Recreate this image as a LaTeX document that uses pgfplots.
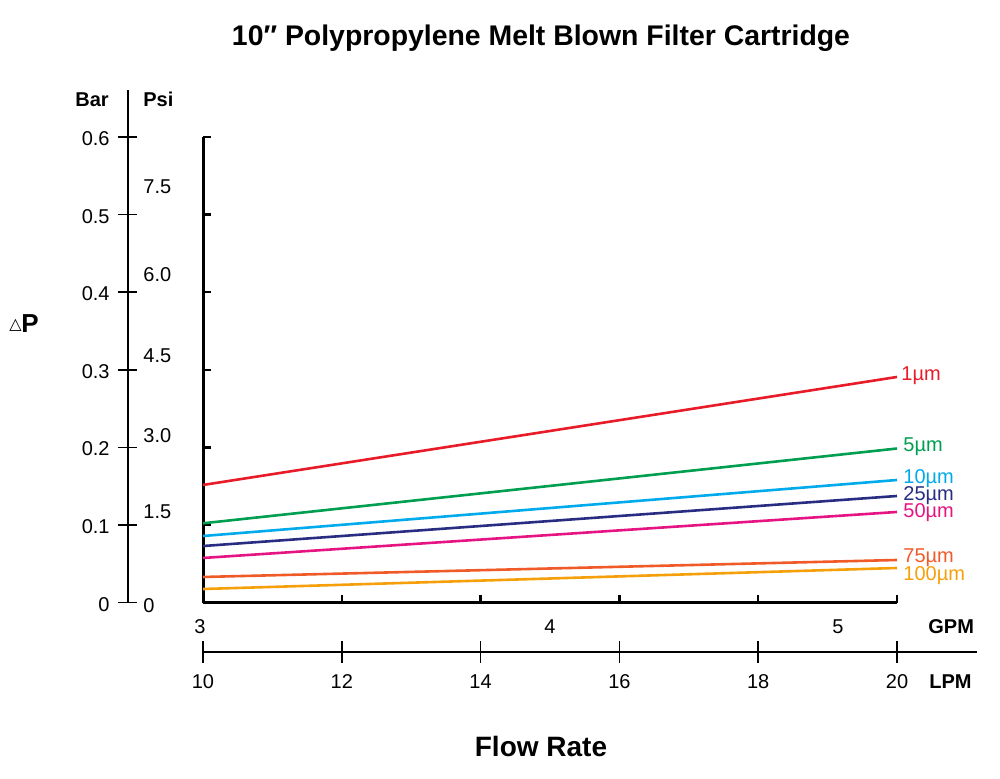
\documentclass[border=0pt]{standalone}
\usepackage{fontspec}
\setmainfont{Liberation Sans}
\newfontfamily\dejavu{DejaVu Sans}
\usepackage{pgfplots}
\pgfplotsset{compat=1.18}
\definecolor{cA}{RGB}{232,28,40}
\definecolor{cB}{RGB}{0,158,80}
\definecolor{cC}{RGB}{0,170,235}
\definecolor{cD}{RGB}{40,45,130}
\definecolor{cE}{RGB}{230,20,130}
\definecolor{cF}{RGB}{240,90,40}
\definecolor{cG}{RGB}{245,160,10}
\begin{document}
\begin{tikzpicture}
\useasboundingbox (-101.5pt,-87.75pt) rectangle (398.5pt,301.25pt);
\begin{axis}[
  at={(0,0)}, anchor=south west,
  scale only axis, width=347pt, height=232.75pt,
  xmin=10, xmax=20, ymin=0, ymax=0.6,
  axis x line=bottom, axis y line=left,
  axis line style={-, line width=1.5pt, black},
  xtick={12,14,16,18,20}, ytick={0.1,0.2,0.3,0.4,0.5,0.6},
  xticklabels={}, yticklabels={},
  tick align=inside, major tick length=4pt,
  tick style={line width=1.2pt, black},
  clip=false,
]
\addplot[cA, line width=1.3pt] coordinates {(10,0.1515) (20,0.2907)};
\addplot[cB, line width=1.3pt] coordinates {(10,0.1021) (20,0.1985)};
\addplot[cC, line width=1.3pt] coordinates {(10,0.0857) (20,0.1579)};
\addplot[cD, line width=1.3pt] coordinates {(10,0.0728) (20,0.1373)};
\addplot[cE, line width=1.3pt] coordinates {(10,0.0574) (20,0.1167)};
\addplot[cF, line width=1.3pt] coordinates {(10,0.0329) (20,0.0548)};
\addplot[cG, line width=1.3pt] coordinates {(10,0.0174) (20,0.0445)};
\end{axis}
\begin{scope}[x=0.5pt, y=-0.5pt, shift={(-101.5pt,301.25pt)}, font=\fontsize{10}{12}\selectfont]
% title
\node[anchor=base, font=\fontsize{14.2}{16}\selectfont\bfseries] at (541,45) {10″ Polypropylene Melt Blown Filter Cartridge};
% bar axis
\draw[line width=0.75pt] (128,90) -- (128,603);
\foreach \v/\lab in {0/0,1/0.1,2/0.2,3/0.3,4/0.4,5/0.5,6/0.6} {
  \pgfmathsetmacro{\yy}{602.5-77.58*\v}
  \draw[line width=0.75pt] (118,\yy) -- (137,\yy);
  \node[anchor=base east, inner sep=0pt] at (110,\yy+8.5) {\lab};
}
\node[anchor=base, font=\fontsize{10}{12}\selectfont\bfseries] at (92,106) {Bar};
\node[anchor=base west, inner sep=0pt, font=\fontsize{10}{12}\selectfont\bfseries] at (143,106) {Psi};
\foreach \yy/\lab in {612/0,518/1.5,442/3.0,362/4.5,281/6.0,193/7.5} {
  \node[anchor=base west, inner sep=0pt] at (143,\yy) {\lab};
}
% delta P
\node[anchor=base west, inner sep=0pt] at (9,329) {\dejavu\fontsize{8}{9}\selectfont △};
\node[anchor=base west, inner sep=0pt, font=\fontsize{13}{14}\selectfont\bfseries] at (21,332) {P};
% series labels
\node[anchor=base west, inner sep=0pt, text=cA] at (901,380) {1µm};
\node[anchor=base west, inner sep=0pt, text=cB] at (903,451) {5µm};
\node[anchor=base west, inner sep=0pt, text=cC] at (903,483) {10µm};
\node[anchor=base west, inner sep=0pt, text=cD] at (903,500) {25µm};
\node[anchor=base west, inner sep=0pt, text=cE] at (903,517) {50µm};
\node[anchor=base west, inner sep=0pt, text=cF] at (903,562) {75µm};
\node[anchor=base west, inner sep=0pt, text=cG] at (903,580) {100µm};
% GPM labels
\node[anchor=base, inner sep=0pt] at (200,633) {3};
\node[anchor=base, inner sep=0pt] at (550,633) {4};
\node[anchor=base, inner sep=0pt] at (838,633) {5};
\node[anchor=base west, inner sep=0pt, font=\fontsize{10}{12}\selectfont\bfseries] at (928,633) {GPM};
% LPM axis
\draw[line width=0.75pt] (203,652) -- (977,652);
\foreach \k/\lab in {0/10,1/12,2/14,3/16,4/18,5/20} {
  \pgfmathsetmacro{\xx}{203+138.8*\k}
  \draw[line width=0.75pt] (\xx,641) -- (\xx,663);
  \node[anchor=base, inner sep=0pt] at (\xx,688) {\lab};
}
\node[anchor=base west, inner sep=0pt, font=\fontsize{10}{12}\selectfont\bfseries] at (929,688) {LPM};
\node[anchor=base, font=\fontsize{14}{16}\selectfont\bfseries] at (541,756) {Flow Rate};
\end{scope}
\end{tikzpicture}
\end{document}
